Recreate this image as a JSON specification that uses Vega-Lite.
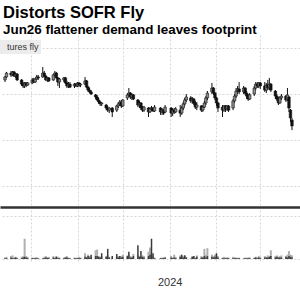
{
 "$schema": "https://vega.github.io/schema/vega-lite/v6.json",
 "autosize": {"type": "pad"},
 "padding": {"left": 0, "right": 0, "top": 5, "bottom": 0},
 "title": {"text": "Distorts SOFR Fly", "subtitle": "Jun26 flattener demand leaves footprint", "anchor": "start", "font": "Liberation Sans", "fontSize": 16.5, "fontWeight": "bold", "color": "#000000", "subtitleFont": "Liberation Sans", "subtitleFontSize": 13.4, "subtitleFontWeight": "bold", "subtitleColor": "#000000", "subtitlePadding": 1, "offset": -1, "dx": 3},
 "spacing": 3,
 "config": {
  "view": {"stroke": null},
  "axis": {"gridColor": "#d6d6d6", "gridDash": [2, 2], "gridWidth": 1}
 },
 "datasets": {
  "fly": [
   {"d":"2023-09-14","o":56.1,"c":57.4,"h":57.8,"l":55.2,"v":0.1,"b":0.05},
   {"d":"2023-09-15","o":57.4,"c":59.1,"h":59.6,"l":57.0,"v":0.15,"b":0.05},
   {"d":"2023-09-18","o":59.1,"c":58.3,"h":60.0,"l":57.4,"v":0.2,"b":0.1},
   {"d":"2023-09-19","o":58.3,"c":59.6,"h":60.0,"l":57.8,"v":0.25,"b":0.05},
   {"d":"2023-09-20","o":59.6,"c":57.8,"h":60.0,"l":57.4,"v":0.1,"b":0.05},
   {"d":"2023-09-21","o":57.8,"c":58.7,"h":59.1,"l":57.0,"v":0.15,"b":0.1},
   {"d":"2023-09-22","o":58.7,"c":56.1,"h":59.1,"l":55.7,"v":0.1,"b":0.05},
   {"d":"2023-09-25","o":56.1,"c":54.3,"h":56.5,"l":53.5,"v":0.15,"b":0.05},
   {"d":"2023-09-26","o":54.3,"c":53.5,"h":55.2,"l":52.6,"v":0.2,"b":0.1},
   {"d":"2023-09-27","o":53.5,"c":54.8,"h":55.2,"l":52.6,"v":1.4,"b":0.15},
   {"d":"2023-09-28","o":54.8,"c":53.9,"h":55.2,"l":53.0,"v":0.2,"b":0.1},
   {"d":"2023-09-29","o":53.9,"c":54.8,"h":55.2,"l":53.5,"v":0.15,"b":0.05},
   {"d":"2023-10-02","o":54.8,"c":56.1,"h":57.0,"l":54.3,"v":0.1,"b":0.05},
   {"d":"2023-10-03","o":56.1,"c":55.2,"h":57.0,"l":54.8,"v":0.08,"b":0.04},
   {"d":"2023-10-04","o":55.2,"c":56.5,"h":57.0,"l":54.8,"v":0.1,"b":0.05},
   {"d":"2023-10-05","o":56.5,"c":57.4,"h":58.3,"l":56.1,"v":0.12,"b":0.05},
   {"d":"2023-10-06","o":57.4,"c":57.0,"h":58.3,"l":56.1,"v":0.08,"b":0.03},
   {"d":"2023-10-09","o":57.4,"c":59.1,"h":61.7,"l":57.0,"v":0.05,"b":0.03},
   {"d":"2023-10-10","o":59.1,"c":57.8,"h":60.0,"l":57.4,"v":0.15,"b":0.05},
   {"d":"2023-10-11","o":57.8,"c":56.1,"h":58.3,"l":55.7,"v":0.2,"b":0.1},
   {"d":"2023-10-12","o":56.1,"c":57.0,"h":57.4,"l":55.2,"v":0.1,"b":0.08},
   {"d":"2023-10-13","o":57.0,"c":55.7,"h":57.4,"l":55.2,"v":0.15,"b":0.05},
   {"d":"2023-10-16","o":56.1,"c":58.3,"h":58.7,"l":55.7,"v":0.2,"b":0.1},
   {"d":"2023-10-17","o":58.3,"c":59.1,"h":60.0,"l":57.4,"v":0.1,"b":0.05},
   {"d":"2023-10-18","o":59.1,"c":57.0,"h":59.6,"l":56.5,"v":0.2,"b":0.15},
   {"d":"2023-10-19","o":57.0,"c":55.2,"h":57.4,"l":53.5,"v":0.15,"b":0.05},
   {"d":"2023-10-20","o":55.2,"c":56.5,"h":57.0,"l":52.6,"v":0.1,"b":0.05},
   {"d":"2023-10-23","o":56.1,"c":57.0,"h":57.4,"l":55.2,"v":0.1,"b":0.05},
   {"d":"2023-10-24","o":57.0,"c":54.8,"h":57.4,"l":54.3,"v":0.15,"b":0.1},
   {"d":"2023-10-25","o":54.8,"c":53.5,"h":55.7,"l":52.6,"v":0.2,"b":0.1},
   {"d":"2023-10-26","o":53.5,"c":54.3,"h":55.2,"l":52.6,"v":0.1,"b":0.05},
   {"d":"2023-10-27","o":54.3,"c":53.0,"h":55.2,"l":52.6,"v":0.08,"b":0.04},
   {"d":"2023-10-30","o":53.5,"c":54.3,"h":54.8,"l":52.6,"v":0.1,"b":0.05},
   {"d":"2023-10-31","o":54.3,"c":53.5,"h":54.8,"l":53.0,"v":0.08,"b":0.04},
   {"d":"2023-11-01","o":53.5,"c":54.8,"h":55.2,"l":53.0,"v":0.1,"b":0.05},
   {"d":"2023-11-02","o":54.8,"c":53.9,"h":55.2,"l":53.0,"v":0.15,"b":0.05},
   {"d":"2023-11-03","o":53.9,"c":54.3,"h":54.8,"l":53.0,"v":0.1,"b":0.05},
   {"d":"2023-11-06","o":54.3,"c":55.7,"h":57.4,"l":53.9,"v":0.4,"b":0.15},
   {"d":"2023-11-07","o":55.7,"c":53.0,"h":56.1,"l":52.6,"v":0.15,"b":0.1},
   {"d":"2023-11-08","o":53.0,"c":51.7,"h":53.5,"l":50.9,"v":0.3,"b":0.2},
   {"d":"2023-11-09","o":51.7,"c":50.9,"h":52.6,"l":50.4,"v":0.2,"b":0.1},
   {"d":"2023-11-10","o":50.9,"c":50.0,"h":51.7,"l":49.6,"v":0.15,"b":0.3},
   {"d":"2023-11-13","o":49.6,"c":48.7,"h":50.0,"l":47.8,"v":0.6,"b":0.2},
   {"d":"2023-11-14","o":48.7,"c":47.4,"h":49.6,"l":47.0,"v":0.65,"b":0.2},
   {"d":"2023-11-15","o":47.4,"c":46.5,"h":48.3,"l":45.7,"v":0.2,"b":0.15},
   {"d":"2023-11-16","o":46.5,"c":45.7,"h":47.0,"l":44.8,"v":0.15,"b":0.1},
   {"d":"2023-11-17","o":45.7,"c":46.1,"h":46.5,"l":44.8,"v":0.2,"b":0.4},
   {"d":"2023-11-20","o":45.2,"c":43.9,"h":45.7,"l":43.0,"v":0.2,"b":0.15},
   {"d":"2023-11-21","o":43.9,"c":43.0,"h":44.8,"l":42.2,"v":0.25,"b":0.7},
   {"d":"2023-11-22","o":43.0,"c":43.9,"h":44.3,"l":41.7,"v":0.15,"b":0.1},
   {"d":"2023-11-24","o":43.9,"c":42.2,"h":44.3,"l":40.0,"v":0.1,"b":0.2},
   {"d":"2023-11-27","o":43.0,"c":44.8,"h":45.2,"l":42.2,"v":0.15,"b":0.35},
   {"d":"2023-11-28","o":44.8,"c":45.7,"h":46.5,"l":43.9,"v":0.2,"b":0.1},
   {"d":"2023-11-29","o":45.7,"c":46.5,"h":47.4,"l":44.8,"v":0.15,"b":0.2},
   {"d":"2023-11-30","o":46.5,"c":44.8,"h":47.4,"l":43.9,"v":0.2,"b":0.1},
   {"d":"2023-12-01","o":44.8,"c":47.4,"h":47.8,"l":44.3,"v":0.3,"b":0.15},
   {"d":"2023-12-04","o":48.3,"c":49.6,"h":50.4,"l":47.4,"v":0.25,"b":0.2},
   {"d":"2023-12-05","o":49.6,"c":50.4,"h":52.6,"l":48.7,"v":0.3,"b":0.5},
   {"d":"2023-12-06","o":50.4,"c":48.7,"h":50.9,"l":47.8,"v":0.2,"b":0.1},
   {"d":"2023-12-07","o":48.7,"c":49.6,"h":50.4,"l":47.4,"v":0.15,"b":0.1},
   {"d":"2023-12-08","o":49.6,"c":47.8,"h":50.0,"l":47.4,"v":0.35,"b":0.2},
   {"d":"2023-12-11","o":47.4,"c":45.2,"h":47.8,"l":44.3,"v":0.3,"b":0.95},
   {"d":"2023-12-12","o":45.2,"c":46.1,"h":47.0,"l":43.9,"v":0.2,"b":0.15},
   {"d":"2023-12-13","o":46.1,"c":43.9,"h":46.5,"l":43.0,"v":0.2,"b":0.55},
   {"d":"2023-12-14","o":43.9,"c":43.0,"h":44.8,"l":42.2,"v":0.25,"b":0.15},
   {"d":"2023-12-15","o":43.0,"c":44.3,"h":44.8,"l":42.2,"v":0.2,"b":0.1},
   {"d":"2023-12-18","o":43.9,"c":42.2,"h":44.3,"l":40.0,"v":0.5,"b":0.2},
   {"d":"2023-12-19","o":42.2,"c":43.5,"h":44.3,"l":41.7,"v":0.8,"b":0.3},
   {"d":"2023-12-20","o":43.5,"c":43.9,"h":44.8,"l":42.6,"v":0.3,"b":1.4},
   {"d":"2023-12-21","o":43.9,"c":42.6,"h":44.3,"l":42.2,"v":0.2,"b":0.4},
   {"d":"2023-12-22","o":42.6,"c":44.3,"h":45.2,"l":42.2,"v":0.1,"b":0.05},
   {"d":"2023-12-26","o":43.9,"c":42.2,"h":44.3,"l":40.9,"v":0.08,"b":0.05},
   {"d":"2023-12-27","o":42.2,"c":43.0,"h":43.9,"l":40.9,"v":0.1,"b":0.05},
   {"d":"2023-12-28","o":43.0,"c":41.7,"h":43.5,"l":40.9,"v":0.12,"b":0.05},
   {"d":"2023-12-29","o":42.2,"c":44.3,"h":45.2,"l":41.7,"v":0.15,"b":0.08},
   {"d":"2024-01-02","o":43.9,"c":41.7,"h":44.3,"l":40.0,"v":0.2,"b":0.1},
   {"d":"2024-01-03","o":41.7,"c":43.0,"h":43.9,"l":40.4,"v":0.1,"b":0.05},
   {"d":"2024-01-04","o":43.0,"c":42.2,"h":43.9,"l":41.3,"v":0.3,"b":0.1},
   {"d":"2024-01-05","o":42.2,"c":43.5,"h":44.3,"l":41.7,"v":0.15,"b":0.05},
   {"d":"2024-01-08","o":43.0,"c":41.7,"h":45.2,"l":40.0,"v":0.25,"b":0.15},
   {"d":"2024-01-09","o":41.7,"c":43.9,"h":44.8,"l":40.9,"v":0.15,"b":0.3},
   {"d":"2024-01-10","o":43.9,"c":45.7,"h":46.5,"l":43.0,"v":0.2,"b":0.1},
   {"d":"2024-01-11","o":45.7,"c":47.4,"h":48.3,"l":44.8,"v":0.25,"b":0.25},
   {"d":"2024-01-12","o":47.4,"c":48.7,"h":50.0,"l":46.5,"v":0.15,"b":0.1},
   {"d":"2024-01-15","o":48.3,"c":47.0,"h":49.1,"l":46.1,"v":0.05,"b":0.02},
   {"d":"2024-01-16","o":47.0,"c":47.8,"h":48.7,"l":45.7,"v":0.2,"b":0.15},
   {"d":"2024-01-17","o":47.8,"c":46.1,"h":48.3,"l":45.2,"v":0.15,"b":0.2},
   {"d":"2024-01-18","o":46.1,"c":44.3,"h":47.0,"l":43.5,"v":0.1,"b":0.05},
   {"d":"2024-01-19","o":44.3,"c":45.2,"h":46.5,"l":43.0,"v":0.25,"b":0.15},
   {"d":"2024-01-22","o":44.8,"c":43.0,"h":45.2,"l":42.2,"v":0.2,"b":0.1},
   {"d":"2024-01-23","o":43.0,"c":44.3,"h":45.2,"l":42.2,"v":0.15,"b":0.1},
   {"d":"2024-01-24","o":44.3,"c":46.1,"h":47.0,"l":43.9,"v":0.7,"b":0.2},
   {"d":"2024-01-25","o":46.1,"c":48.3,"h":49.1,"l":45.2,"v":0.3,"b":0.1},
   {"d":"2024-01-26","o":48.3,"c":50.4,"h":51.3,"l":47.4,"v":0.75,"b":0.2},
   {"d":"2024-01-29","o":50.9,"c":52.6,"h":54.8,"l":50.0,"v":0.3,"b":0.15},
   {"d":"2024-01-30","o":52.6,"c":50.4,"h":53.0,"l":49.6,"v":0.2,"b":0.1},
   {"d":"2024-01-31","o":50.4,"c":48.3,"h":50.9,"l":47.4,"v":0.3,"b":0.15},
   {"d":"2024-02-01","o":48.3,"c":46.1,"h":48.7,"l":44.8,"v":0.25,"b":0.4},
   {"d":"2024-02-02","o":46.1,"c":43.9,"h":46.5,"l":42.2,"v":0.2,"b":0.1},
   {"d":"2024-02-05","o":44.3,"c":43.0,"h":45.2,"l":40.0,"v":0.1,"b":0.05},
   {"d":"2024-02-06","o":43.0,"c":44.8,"h":45.2,"l":42.2,"v":0.15,"b":0.05},
   {"d":"2024-02-07","o":44.8,"c":43.5,"h":45.2,"l":42.2,"v":0.1,"b":0.05},
   {"d":"2024-02-08","o":43.5,"c":44.8,"h":45.2,"l":42.6,"v":0.12,"b":0.05},
   {"d":"2024-02-09","o":44.8,"c":43.0,"h":45.2,"l":42.2,"v":0.1,"b":0.05},
   {"d":"2024-02-12","o":43.9,"c":47.0,"h":47.8,"l":43.0,"v":0.15,"b":0.05},
   {"d":"2024-02-13","o":47.0,"c":49.1,"h":50.0,"l":46.1,"v":0.12,"b":0.05},
   {"d":"2024-02-14","o":49.1,"c":51.3,"h":52.6,"l":48.3,"v":0.1,"b":0.05},
   {"d":"2024-02-15","o":51.3,"c":52.2,"h":53.5,"l":50.0,"v":0.08,"b":0.04},
   {"d":"2024-02-16","o":52.2,"c":50.9,"h":55.2,"l":50.0,"v":0.1,"b":0.05},
   {"d":"2024-02-19","o":50.9,"c":52.6,"h":53.5,"l":50.0,"v":0.05,"b":0.02},
   {"d":"2024-02-20","o":52.6,"c":50.4,"h":53.0,"l":49.6,"v":0.1,"b":0.05},
   {"d":"2024-02-21","o":50.4,"c":49.1,"h":51.3,"l":47.8,"v":0.08,"b":0.04},
   {"d":"2024-02-22","o":49.1,"c":47.8,"h":50.0,"l":47.0,"v":0.1,"b":0.05},
   {"d":"2024-02-23","o":47.8,"c":49.6,"h":50.4,"l":47.4,"v":0.12,"b":0.05},
   {"d":"2024-02-26","o":50.0,"c":52.6,"h":53.5,"l":49.1,"v":0.1,"b":0.05},
   {"d":"2024-02-27","o":52.6,"c":54.3,"h":55.2,"l":51.7,"v":0.15,"b":0.1},
   {"d":"2024-02-28","o":54.3,"c":53.5,"h":55.2,"l":52.6,"v":0.1,"b":0.05},
   {"d":"2024-02-29","o":53.5,"c":54.8,"h":55.2,"l":52.6,"v":0.2,"b":0.1},
   {"d":"2024-03-01","o":54.8,"c":53.5,"h":55.2,"l":52.2,"v":0.15,"b":0.05},
   {"d":"2024-03-04","o":53.5,"c":51.7,"h":55.2,"l":50.9,"v":0.2,"b":0.1},
   {"d":"2024-03-05","o":51.7,"c":53.9,"h":54.8,"l":50.4,"v":0.15,"b":0.1},
   {"d":"2024-03-06","o":53.9,"c":52.6,"h":56.1,"l":51.7,"v":0.25,"b":0.1},
   {"d":"2024-03-07","o":52.6,"c":54.3,"h":57.0,"l":51.7,"v":0.2,"b":0.15},
   {"d":"2024-03-08","o":54.3,"c":51.7,"h":54.8,"l":50.9,"v":0.6,"b":0.2},
   {"d":"2024-03-11","o":51.3,"c":49.1,"h":51.7,"l":47.8,"v":0.2,"b":0.1},
   {"d":"2024-03-12","o":49.1,"c":47.8,"h":50.0,"l":47.0,"v":0.25,"b":0.15},
   {"d":"2024-03-13","o":47.8,"c":46.1,"h":48.7,"l":45.2,"v":0.15,"b":0.1},
   {"d":"2024-03-14","o":46.1,"c":48.3,"h":49.1,"l":45.7,"v":0.2,"b":0.1},
   {"d":"2024-03-15","o":48.3,"c":49.1,"h":50.0,"l":47.4,"v":0.25,"b":0.1},
   {"d":"2024-03-18","o":49.1,"c":47.4,"h":49.6,"l":46.5,"v":0.2,"b":0.15},
   {"d":"2024-03-19","o":47.4,"c":49.6,"h":52.6,"l":47.0,"v":0.3,"b":0.1},
   {"d":"2024-03-20","o":48.7,"c":43.9,"h":49.1,"l":42.2,"v":0.55,"b":0.2},
   {"d":"2024-03-21","o":43.0,"c":39.6,"h":43.5,"l":37.8,"v":0.3,"b":0.15},
   {"d":"2024-03-22","o":38.7,"c":36.1,"h":39.6,"l":34.3,"v":0.25,"b":0.1}
  ]
 },
 "vconcat": [
  {
   "width": 300,
   "height": 172,
   "data": {"name": "fly"},
   "layer": [
    {
     "mark": {"type": "rule", "strokeWidth": 1},
     "encoding": {
      "x": {"field": "d", "type": "temporal",
            "scale": {"type": "utc", "domain": [{"year": 2023, "month": 9, "date": 14, "utc": true}, {"year": 2024, "month": 3, "date": 24, "utc": true}]},
            "axis": {"title": null, "labels": false, "ticks": false, "domain": true, "domainColor": "#333333", "domainWidth": 2.5, "grid": true, "tickCount": {"interval": "month", "step": 1}}},
      "y": {"field": "l", "type": "quantitative",
            "scale": {"domain": [0.87, 75.65], "nice": false, "zero": false},
            "axis": {"title": null, "orient": "right", "labels": false, "ticks": false, "domain": false, "grid": true, "values": [10, 20, 30, 40, 50, 60, 70]}},
      "y2": {"field": "h"},
      "color": {"datum": "tures fly", "type": "nominal", "scale": {"range": ["#111111"]},
                "legend": {"title": null, "orient": "none", "legendX": 0, "legendY": 5, "fillColor": "#ececec", "padding": 2, "symbolSize": 0, "symbolOpacity": 0, "symbolStrokeWidth": 0, "labelOffset": -4, "labelFont": "Liberation Sans", "labelFontSize": 9, "labelColor": "#333333"}}
     }
    },
    {
     "mark": {"type": "bar", "size": 2.5, "stroke": "#111111", "strokeWidth": 0.6},
     "encoding": {
      "x": {"field": "d", "type": "temporal"},
      "y": {"field": "o", "type": "quantitative"},
      "y2": {"field": "c"},
      "fill": {"condition": {"test": "datum.c > datum.o", "value": "#8a8a8a"}, "value": "#111111"}
     }
    }
   ]
  },
  {
   "width": 300,
   "height": 49,
   "data": {"name": "fly"},
   "layer": [
    {
     "mark": {"type": "bar", "size": 2, "color": "#b0b0b0"},
     "encoding": {
      "x": {"field": "d", "type": "temporal",
            "scale": {"type": "utc", "domain": [{"year": 2023, "month": 9, "date": 14, "utc": true}, {"year": 2024, "month": 3, "date": 24, "utc": true}]},
            "axis": {"title": null, "grid": true, "domain": false, "ticks": true, "tickSize": 4, "tickColor": "#d6d6d6", "tickDash": [2, 2], "tickCount": {"interval": "month", "step": 1},
                     "labelExpr": "utcmonth(datum.value) == 0 ? utcFormat(datum.value, '%Y') : ''",
                     "labelPadding": 13, "labelFont": "Liberation Sans", "labelFontSize": 11, "labelColor": "#333333", "labelFlush": false, "labelOverlap": false}},
      "y": {"field": "v", "type": "quantitative",
            "scale": {"domain": [0, 3.38], "nice": false},
            "axis": {"title": null, "orient": "right", "labels": false, "ticks": false, "domain": false, "grid": true, "values": [0, 1, 2, 3]}}
     }
    },
    {
     "mark": {"type": "bar", "size": 1.5, "color": "#3a3a3a"},
     "encoding": {
      "x": {"field": "d", "type": "temporal"},
      "y": {"field": "b", "type": "quantitative"}
     }
    }
   ]
  }
 ]
}
